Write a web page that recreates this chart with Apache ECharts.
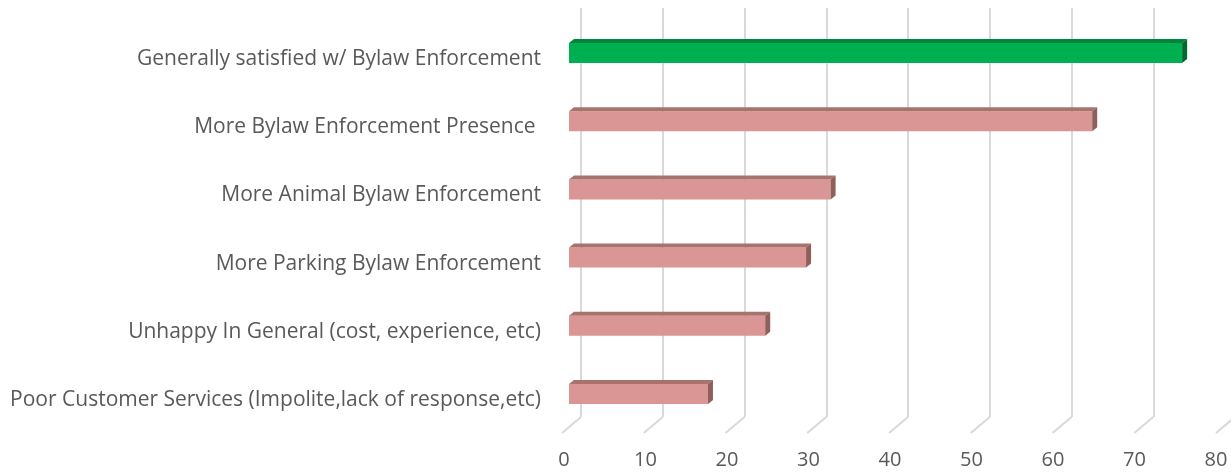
<!DOCTYPE html>
<html><head><meta charset="utf-8">
<script src="https://cdn.jsdelivr.net/npm/echarts@6/dist/echarts.min.js"></script>
<style>html,body{margin:0;padding:0;background:#fff}#c{width:1231px;height:472px}</style>
</head><body><div id="c"></div>
<script>
const categories = [
  'Generally satisfied w/ Bylaw Enforcement',
  'More Bylaw Enforcement Presence ',
  'More Animal Bylaw Enforcement',
  'More Parking Bylaw Enforcement',
  'Unhappy In General (cost, experience, etc)',
  'Poor Customer Services (Impolite,lack of response,etc)'
];
const values = [75, 64, 32, 29, 24, 17];
const highlighted = [true, false, false, false, false, false];
const ticks = [0, 10, 20, 30, 40, 50, 60, 70, 80];

const FONT = 'Open Sans';
const TXT = '#595959';
const GRID = '#d9d9d9';
const FLOOR_DX = -19, FLOOR_DY = 16;     // oblique floor offset (back -> front)
const BAR_OX = -12, BAR_OY = 11;         // bar front face offset from back plane
const BAR_H = 20, DEP_X = 5, DEP_Y = 4;  // bar size / depth
const GREEN = {front: '#00B050', top: '#00843C', side: '#006A30'};
const PINK = {front: '#D99694', top: '#A8736F', side: '#8F5F5C'};

const chart = echarts.init(document.getElementById('c'), null, {renderer: 'canvas'});
const backGrid = {left: 581, top: 8, width: 654, height: 409, outerBoundsMode: 'none', containLabel: false};
const frontGrid = {left: 581 + FLOOR_DX + 2, top: 25, width: 652, height: 409, outerBoundsMode: 'none', containLabel: false};

chart.setOption({
  animation: false,
  backgroundColor: '#ffffff',
  grid: [backGrid, frontGrid],
  xAxis: [
    {gridIndex: 0, type: 'value', min: 0, max: 80, interval: 10,
     axisLine: {show: false}, axisTick: {show: false}, axisLabel: {show: false},
     splitLine: {show: true, lineStyle: {color: GRID, width: 2}}},
    {gridIndex: 1, type: 'value', min: 0, max: 80, interval: 10,
     axisLine: {show: false}, axisTick: {show: false}, splitLine: {show: false},
     axisLabel: {show: true, color: TXT, fontFamily: FONT, fontSize: 20, margin: 16,
       showMinLabel: true, showMaxLabel: true}}
  ],
  yAxis: [
    {gridIndex: 0, type: 'category', data: categories, inverse: true,
     axisLine: {show: false}, axisTick: {show: false}, axisLabel: {show: false}, splitLine: {show: false}},
    {gridIndex: 1, type: 'category', data: categories, inverse: true,
     axisLine: {show: false}, axisTick: {show: false}, splitLine: {show: false},
     axisLabel: {color: TXT, fontFamily: FONT, fontSize: 21, margin: 23}}
  ],
  series: [
    {
      type: 'custom', xAxisIndex: 0, yAxisIndex: 0, clip: false, silent: true,
      data: ticks.map(t => [t, categories[0]]),
      encode: {x: 0, y: 1},
      renderItem(params, api) {
        const cs = params.coordSys;
        const p = api.coord([api.value(0), categories[0]]);
        const yb = cs.y + cs.height;
        return {type: 'line',
          shape: {x1: p[0], y1: yb, x2: p[0] + FLOOR_DX, y2: yb + FLOOR_DY},
          style: {stroke: GRID, lineWidth: 2}};
      }
    },
    {
      type: 'custom', xAxisIndex: 0, yAxisIndex: 0, clip: false, silent: true,
      data: values.map((v, i) => [v, categories[i], highlighted[i] ? 1 : 0]),
      encode: {x: 0, y: 1},
      renderItem(params, api) {
        const v = api.value(0);
        const cat = categories[params.dataIndex];
        const pal = api.value(2) ? GREEN : PINK;
        const p0 = api.coord([0, cat]);
        const p1 = api.coord([v, cat]);
        const x0 = p0[0] + BAR_OX, x1 = p1[0] + BAR_OX;
        const yc = p0[1] + BAR_OY;
        const top = yc - BAR_H / 2, bot = yc + BAR_H / 2;
        return {type: 'group', children: [
          {type: 'rect', shape: {x: x0, y: top, width: x1 - x0, height: BAR_H}, style: {fill: pal.front}},
          {type: 'polygon', shape: {points: [[x0, top], [x1, top], [x1 + DEP_X, top - DEP_Y], [x0 + DEP_X, top - DEP_Y]]}, style: {fill: pal.top}},
          {type: 'polygon', shape: {points: [[x1, top], [x1 + DEP_X, top - DEP_Y], [x1 + DEP_X, bot - DEP_Y], [x1, bot]]}, style: {fill: pal.side}}
        ]};
      }
    }
  ]
});
</script></body></html>
